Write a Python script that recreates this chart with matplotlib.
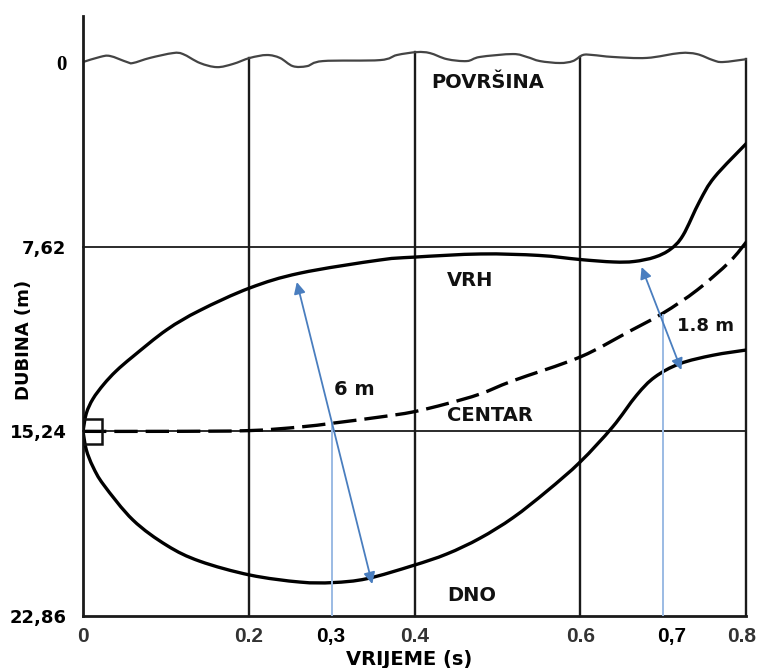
import numpy as np
import matplotlib
matplotlib.use("Agg")
import matplotlib.pyplot as plt
from matplotlib.patches import Rectangle, PathPatch
from matplotlib.path import Path
from matplotlib.transforms import ScaledTranslation

plt.rcParams['font.family'] = ['DejaVu Sans']

# ---------------- data ----------------
surface_x = [0, 0.0205, 0.0326, 0.0531, 0.0603, 0.0808, 0.1086, 0.1206, 0.1411, 0.1616,
             0.1809, 0.2014, 0.2219, 0.2376, 0.2533, 0.2702, 0.2895, 0.3583, 0.3788, 0.4029,
             0.4186, 0.4391, 0.4632, 0.4789, 0.5187, 0.5356, 0.5513, 0.5754, 0.5911, 0.6031,
             0.6152, 0.6393, 0.6803, 0.7201, 0.7406, 0.7600, 0.7720, 0.8010]
surface_d = [0, -0.21, -0.25, 0, 0.04, -0.17, -0.37, -0.33, 0.04, 0.21,
             0.08, -0.17, -0.29, -0.17, 0.17, 0.17, -0.04, -0.08, -0.29, -0.41,
             -0.37, -0.12, -0.04, -0.21, -0.33, -0.21, -0.04, 0.04, -0.04, -0.29,
             -0.29, -0.21, -0.17, -0.37, -0.33, -0.08, 0.0, -0.12]

top_x = [0, 0.004, 0.012, 0.025, 0.040, 0.0603, 0.101, 0.141, 0.2015, 0.262, 0.358,
         0.40, 0.48, 0.55, 0.60, 0.64, 0.665, 0.690, 0.709, 0.724, 0.744, 0.762, 0.801]
top_d = [15.24, 14.5, 13.9, 13.3, 12.75, 12.15, 11.05, 10.25, 9.32, 8.71, 8.17,
         8.05, 7.92, 7.98, 8.15, 8.25, 8.23, 8.05, 7.72, 7.15, 5.75, 4.75, 3.34]

bottom_x = [0, 0.004, 0.012, 0.025, 0.0603, 0.1013, 0.141, 0.2015, 0.2618, 0.3016, 0.3426,
            0.398, 0.439, 0.479, 0.519, 0.560, 0.600, 0.639, 0.668, 0.690, 0.72, 0.76, 0.801]
bottom_d = [15.24, 16.0, 16.7, 17.45, 18.90, 19.95, 20.6, 21.17, 21.46, 21.48, 21.32,
            20.78, 20.3, 19.65, 18.8, 17.7, 16.50, 15.06, 13.75, 13.0, 12.45, 12.1, 11.88]

center_x = [0, 0.1, 0.2, 0.262, 0.302, 0.358, 0.398, 0.439, 0.479, 0.519, 0.60, 0.66, 0.70,
            0.741, 0.780, 0.801]
center_d = [15.24, 15.24, 15.21, 15.06, 14.90, 14.65, 14.44, 14.10, 13.70, 13.15, 12.17, 11.10,
            10.36, 9.41, 8.25, 7.40]

grid_x = [0.2, 0.4, 0.6, 0.8]
grid_d = [7.62, 15.24]

xtick_vals = [0, 0.2, 0.3, 0.4, 0.6, 0.7, 0.8]
xtick_labels = ['0', '0.2', '0,3', '0.4', '0.6', '0,7', '0.8']
ytick_vals = [0, 7.62, 15.24, 22.86]
ytick_labels = ['0', '7,62', '15,24', '22,86']

charge_x = [0]
charge_d = [15.24]

# measurement arrows (x, depth) pairs
arrow6_start = (0.258, 9.08)
arrow6_end = (0.349, 21.54)
arrow18_start = (0.674, 8.46)
arrow18_end = (0.722, 12.71)
vline_x = [0.3, 0.7]
vline_top = [14.90, 10.44]

labels = [('POVRŠINA', 0.42, 0.85, 14), ('VRH', 0.439, 9.0, 14), ('CENTAR', 0.439, 14.6, 14),
          ('DNO', 0.439, 22.03, 14), ('6 m', 0.303, 13.53, 14), ('1.8 m', 0.717, 10.9, 13)]


def smooth_path(xs, ys):
    """Catmull-Rom spline through the points, expressed as cubic Bezier path."""
    p = np.column_stack([xs, ys]).astype(float)
    pts = np.vstack([p[0], p, p[-1]])
    verts = [p[0]]
    codes = [Path.MOVETO]
    for i in range(1, len(pts) - 2):
        p0, p1, p2, p3 = pts[i - 1], pts[i], pts[i + 1], pts[i + 2]
        c1 = p1 + (p2 - p0) / 6.0
        c2 = p2 - (p3 - p1) / 6.0
        verts += [c1, c2, p2]
        codes += [Path.CURVE4] * 3
    return Path(verts, codes)


# ---------------- figure ----------------
fig = plt.figure(figsize=(7.58, 6.68), dpi=100)
ax = fig.add_axes([83 / 758, 1 - 616 / 668, (746 - 83) / 758, (616 - 16) / 668])
ax.set_xlim(0, 0.8)
ax.set_ylim(22.86, -1.9)

for s in ['top', 'right']:
    ax.spines[s].set_visible(False)
for s in ['left', 'bottom']:
    ax.spines[s].set_linewidth(2.0)
    ax.spines[s].set_color('#1a1a1a')

grid_col = '#1a1a1a'
for gx in grid_x:
    top = np.interp(gx, surface_x, surface_d)
    ax.plot([gx, gx], [top, 22.86], color=grid_col, lw=1.7, clip_on=False, zorder=1)
for gd in grid_d:
    ax.plot([0, 0.8], [gd, gd], color=grid_col, lw=1.3, clip_on=False, zorder=1)

# surface wave
ax.add_patch(PathPatch(smooth_path(surface_x, surface_d), fill=False, ec='#444444',
                       lw=1.6, zorder=2, clip_on=False))

# curves
ax.add_patch(PathPatch(smooth_path(top_x, top_d), fill=False, ec='black', lw=2.4,
                       zorder=3, capstyle='round'))
ax.add_patch(PathPatch(smooth_path(bottom_x, bottom_d), fill=False, ec='black', lw=2.4,
                       zorder=3, capstyle='round'))
ax.add_patch(PathPatch(smooth_path(center_x, center_d), fill=False, ec='black', lw=2.4,
                       zorder=3, linestyle=(0, (7, 2.4))))

# charge square
for cx, cd in zip(charge_x, charge_d):
    ax.add_patch(Rectangle((cx, cd - 0.52), 0.023, 1.04, fill=False, ec='#111111',
                           lw=1.8, zorder=4))

# blue measurement lines
blue = '#4a7ebf'
light_blue = '#9bbbe4'
for vx, vt in zip(vline_x, vline_top):
    ax.plot([vx, vx], [vt, 22.86], color=light_blue, lw=1.4, zorder=5)
for a, b in [(arrow6_start, arrow6_end), (arrow18_start, arrow18_end)]:
    ax.annotate('', xy=a, xytext=b,
                arrowprops=dict(arrowstyle='<|-|>', color=blue, lw=1.3,
                                mutation_scale=17, shrinkA=0, shrinkB=0), zorder=6)

# labels
for txt, lx, ld, fs in labels:
    ax.text(lx, ld, txt, ha='left', va='center', fontsize=fs, fontweight='bold',
            color='#111111', zorder=7)

# ticks
ax.set_xticks(xtick_vals)
ax.set_xticklabels(xtick_labels, fontsize=15, fontweight='bold', family='Liberation Sans')
ax.set_yticks(ytick_vals)
ax.set_yticklabels(ytick_labels, fontsize=13, fontweight='bold')
ax.tick_params(axis='both', length=0)
ax.tick_params(axis='x', pad=8)
ax.tick_params(axis='y', pad=12)
shifts = {'0,7': 8, '0.8': -4, '0,3': -1}
for t in ax.get_xticklabels():
    txt = t.get_text()
    if txt in ('0', '0.2', '0.4', '0.6', '0.8'):
        t.set_color('#333333')
    if txt in shifts:
        t.set_transform(t.get_transform() + ScaledTranslation(shifts[txt] / 100, 0, fig.dpi_scale_trans))
ylab0 = ax.get_yticklabels()[0]
ylab0.set_fontfamily('Liberation Serif')
ylab0.set_fontsize(15)

ax.set_xlabel('VRIJEME (s)', fontsize=14, fontweight='bold')
ax.xaxis.set_label_coords((409 - 83) / 663, (616 - 650) / 600)
ax.set_ylabel('DUBINA (m)', fontsize=13, fontweight='bold')
ax.yaxis.set_label_coords((33 - 83) / 663, (616 - 340) / 600)

fig.savefig('out.png', dpi=100)
